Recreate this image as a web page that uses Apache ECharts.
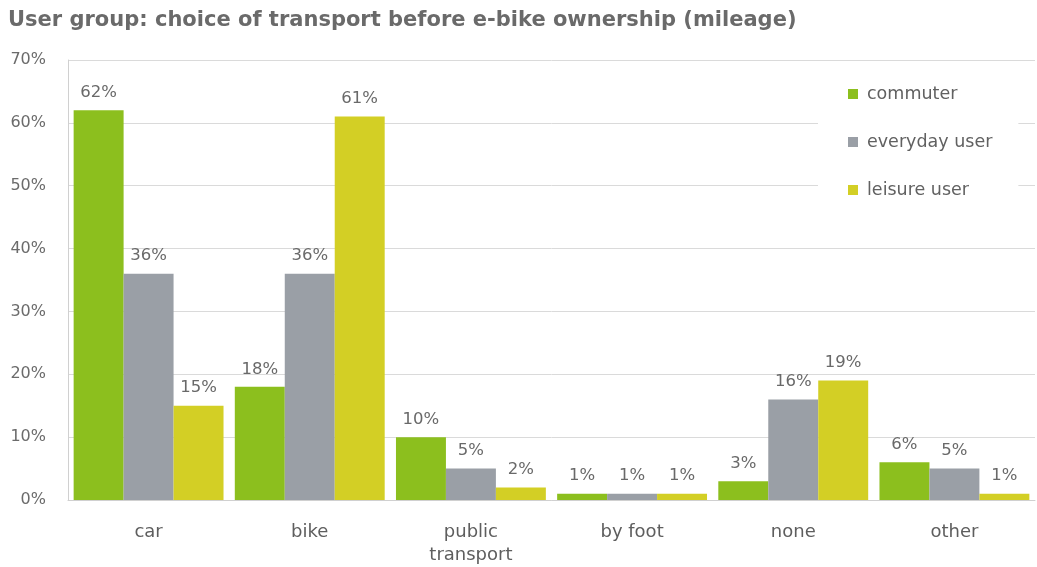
<!DOCTYPE html>
<html>
<head>
<meta charset="utf-8">
<script src="https://cdn.jsdelivr.net/npm/echarts@6/dist/echarts.min.js"></script>
<style>
  html, body { margin: 0; padding: 0; background: #fff; }
  #chart { width: 1037px; height: 567px; }
</style>
</head>
<body>
<div id="chart"></div>
<script>
// Transport used before owning an e-bike, share of mileage by user group
const categories = ['car', 'bike', 'public\ntransport', 'by foot', 'none', 'other'];
const commuter = [62, 18, 10, 1, 3, 6];
const everydayUser = [36, 36, 5, 1, 16, 5];
const leisureUser = [15, 61, 2, 1, 19, 1];
const yTicks = [0, 10, 20, 30, 40, 50, 60, 70];

const seriesNames = ['commuter', 'everyday user', 'leisure user'];
const seriesData = [commuter, everydayUser, leisureUser];
const colors = ['#8cbf1e', '#9a9fa6', '#d3cf25'];

const FONT = 'DejaVu Sans';
const chart = echarts.init(document.getElementById('chart'));

const labelStyle = {
  show: true,
  position: 'top',
  distance: 9,
  formatter: p => p.value + '%',
  color: '#696969',
  fontFamily: FONT,
  fontSize: 16.5
};

chart.setOption({
  animation: false,
  backgroundColor: '#fff',
  title: {
    text: 'User group: choice of transport before e-bike ownership (mileage)',
    left: 3,
    top: 5,
    textStyle: {
      fontFamily: FONT,
      fontWeight: 'bold',
      fontSize: 21,
      color: '#6a6a6a'
    }
  },
  legend: {
    orient: 'vertical',
    left: 818,
    top: 74,
    itemWidth: 10,
    itemHeight: 10,
    itemGap: 28,
    icon: 'rect',
    backgroundColor: '#fff',
    padding: [10, 26, 12, 30],
    textStyle: {
      fontFamily: FONT,
      fontSize: 17.5,
      lineHeight: 20,
      color: '#616161',
      padding: [0, 0, 0, 4]
    },
    data: seriesNames
  },
  grid: {
    left: 68,
    right: 2,
    top: 60,
    bottom: 64,
    containLabel: false
  },
  xAxis: {
    type: 'category',
    data: categories,
    axisLine: { show: true, lineStyle: { color: '#d0d0d0', width: 1 } },
    axisTick: { show: false },
    axisLabel: {
      margin: 21,
      fontFamily: FONT,
      fontSize: 18,
      color: '#5e5e5e',
      lineHeight: 23
    }
  },
  yAxis: {
    type: 'value',
    min: yTicks[0],
    max: yTicks[yTicks.length - 1],
    interval: 10,
    axisLine: { show: true, lineStyle: { color: '#d0d0d0', width: 1 } },
    axisTick: { show: false },
    axisLabel: {
      margin: 22,
      formatter: v => v + '%',
      fontFamily: FONT,
      fontSize: 16,
      color: '#6b6b6b'
    },
    splitLine: { show: true, lineStyle: { color: '#dadada', width: 1 } }
  },
  series: seriesNames.map((name, i) => ({
    name: name,
    type: 'bar',
    data: seriesData[i],
    barGap: '0%',
    barCategoryGap: '7%',
    itemStyle: { color: colors[i] },
    label: labelStyle
  }))
});
</script>
</body>
</html>
